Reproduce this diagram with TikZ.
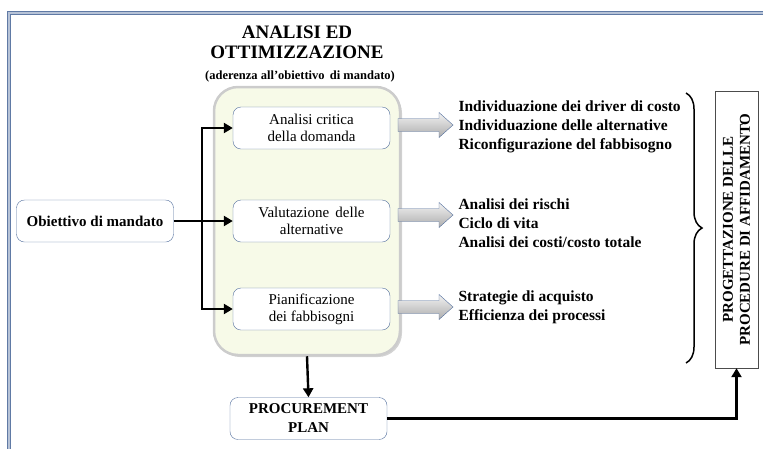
\documentclass[tikz,border=0pt]{standalone}
\usepackage{fontspec}
\setmainfont{Liberation Serif}
\usetikzlibrary{positioning,arrows.meta,shadows,decorations.pathreplacing}

\definecolor{frameblue}{RGB}{96,122,165}
\definecolor{boxline}{RGB}{84,112,158}
\definecolor{panelfill}{RGB}{247,250,232}

\tikzset{
  stepbox/.style={draw=boxline, fill=white, rounded corners=8pt, minimum width=157pt,
    minimum height=42pt, align=center, inner sep=2pt, font=\fontsize{15}{17}\selectfont},
  keybox/.style={stepbox, font=\bfseries\fontsize{15}{19}\selectfont},
  blockarrow/.style={draw=boxline, top color=gray!10, bottom color=gray!65},
  itemlist/.style={anchor=west, align=left, font=\bfseries\fontsize{15.5}{19}\selectfont},
  flow/.style={line width=2.4pt, -{Triangle[length=9pt,width=10pt]}}
}
\newcommand{\fatarrow}[2]{% x of tail, y of centre
  \shade[blockarrow] (#1,#2-6.5) -- ++(41,0) -- ++(0,-6) -- ++(14,12.5) -- ++(-14,12.5)
    -- ++(0,-6) -- ++(-41,0) -- cycle;}

\begin{document}
\begin{tikzpicture}[x=1pt, y=-1pt]
    \useasboundingbox (0,0) rectangle (763,448);
    % outer frame
    \draw[frameblue, line width=1pt, double=frameblue!45, double distance=1.4pt] (9,460) -- (9,13) -- (775,13);
    % title
    \node[align=center, font=\bfseries\fontsize{19}{20}\selectfont] (title) at (297,42) {ANALISI ED\\OTTIMIZZAZIONE};
    \node[font=\bfseries\fontsize{12.5}{14}\selectfont] (sub) at (300,76) {(aderenza all'obiettivo\, di mandato)};
    % panel
    \node[draw=gray!40, line width=2.5pt, fill=panelfill, rounded corners=24pt, minimum width=186pt,
      minimum height=268pt, drop shadow={shadow xshift=2pt, shadow yshift=-2pt, opacity=0.35}] (panel) at (307,221) {};
    % steps
    \node[stepbox] (crit) at (311.5,128) {Analisi critica\\della domanda};
    \node[stepbox] (valu) at (311.5,221) {Valutazione\, delle\\alternative};
    \node[stepbox] (pian) at (311.5,309) {Pianificazione\\dei fabbisogni};
    \node[keybox] (obj) at (95,221) {Obiettivo di mandato};
    \node[keybox] (plan) at (308.5,418.5) {PROCUREMENT\\PLAN};
    % block arrows
    \fatarrow{398}{125}
    \fatarrow{398}{215}
    \fatarrow{398}{307}
    % lists
    \node[itemlist] (list1) at (455,127) {Individuazione dei driver di costo\\Individuazione delle alternative\\Riconfigurazione del fabbisogno};
    \node[itemlist] (list2) at (455,223) {Analisi dei rischi\\Ciclo di vita\\Analisi dei costi/costo totale};
    \node[itemlist] (list3) at (455,307.5) {Strategie di acquisto\\Efficienza dei processi};
    % brace and side box
    \draw[line width=1.5pt, decorate, decoration={brace, amplitude=16pt}] (686,93) -- (686,363);
    \node[draw=black!70, rotate=90, minimum width=277pt, minimum height=43pt, align=center, inner sep=1pt,
      font=\bfseries\fontsize{15}{17}\selectfont] (proc) at (736.5,229.5) {PROGETTAZIONE DELLE\\PROCEDURE DI AFFIDAMENTO};
    % connectors
    \coordinate (fork) at (202,221);
    \draw[flow] (obj.east) -- (valu.west);
    \draw[flow] (fork) |- (crit.west);
    \draw[flow] (fork) |- (pian.west);
    \draw[flow] (panel.south) -- (plan.north);
    \draw[flow] (plan.east) -| (proc.west);
\end{tikzpicture}
\end{document}
